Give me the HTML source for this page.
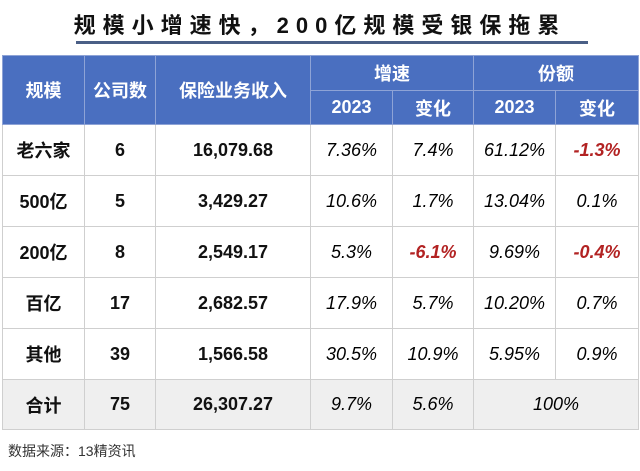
<!DOCTYPE html>
<html><head><meta charset="utf-8"><style>
body{margin:0;width:640px;height:471px;background:#fff;position:relative;overflow:hidden;font-family:"Liberation Sans","Noto Sans CJK SC",sans-serif;}
.title{position:absolute;left:0;width:640px;top:8px;text-align:center;font-size:22px;font-weight:bold;letter-spacing:7px;color:#111;}
.line{position:absolute;left:76px;width:512px;top:41px;height:3px;background:#4a5f86;}
table{position:absolute;left:2px;top:55px;border-collapse:collapse;table-layout:fixed;}
td{border:1px solid #cfcfcf;text-align:center;font-size:18px;color:#111;padding:0;}
tbody td:nth-child(-n+3){font-weight:bold}
thead td{background:#4a6fc0;color:#fff;font-weight:bold;border-color:#8ea3d6;}
.i{font-style:italic;color:#000}
.r{color:#b22222;font-weight:bold;font-style:italic}
.t td{background:#efefef}
.src{position:absolute;left:8px;top:441px;font-size:14px;color:#333;}
</style></head><body>
<div class="title">规模小增速快，200亿规模受银保拖累</div>
<div class="line"></div>
<table>
<colgroup><col style="width:82px"><col style="width:71px"><col style="width:155px"><col style="width:82px"><col style="width:81px"><col style="width:82px"><col style="width:83px"></colgroup>
<thead>
<tr style="height:35px"><td rowspan="2">规模</td><td rowspan="2">公司数</td><td rowspan="2">保险业务收入</td><td colspan="2">增速</td><td colspan="2">份额</td></tr>
<tr style="height:34px"><td>2023</td><td>变化</td><td>2023</td><td>变化</td></tr>
</thead>
<tbody>
<tr style="height:51px"><td>老六家</td><td>6</td><td>16,079.68</td><td class="i">7.36%</td><td class="i">7.4%</td><td class="i">61.12%</td><td class="r">-1.3%</td></tr>
<tr style="height:51px"><td>500亿</td><td>5</td><td>3,429.27</td><td class="i">10.6%</td><td class="i">1.7%</td><td class="i">13.04%</td><td class="i">0.1%</td></tr>
<tr style="height:51px"><td>200亿</td><td>8</td><td>2,549.17</td><td class="i">5.3%</td><td class="r">-6.1%</td><td class="i">9.69%</td><td class="r">-0.4%</td></tr>
<tr style="height:51px"><td>百亿</td><td>17</td><td>2,682.57</td><td class="i">17.9%</td><td class="i">5.7%</td><td class="i">10.20%</td><td class="i">0.7%</td></tr>
<tr style="height:51px"><td>其他</td><td>39</td><td>1,566.58</td><td class="i">30.5%</td><td class="i">10.9%</td><td class="i">5.95%</td><td class="i">0.9%</td></tr>
<tr class="t" style="height:50px"><td>合计</td><td>75</td><td>26,307.27</td><td class="i">9.7%</td><td class="i">5.6%</td><td colspan="2" class="i">100%</td></tr>
</tbody></table>
<div class="src">数据来源：13精资讯</div>
</body></html>
